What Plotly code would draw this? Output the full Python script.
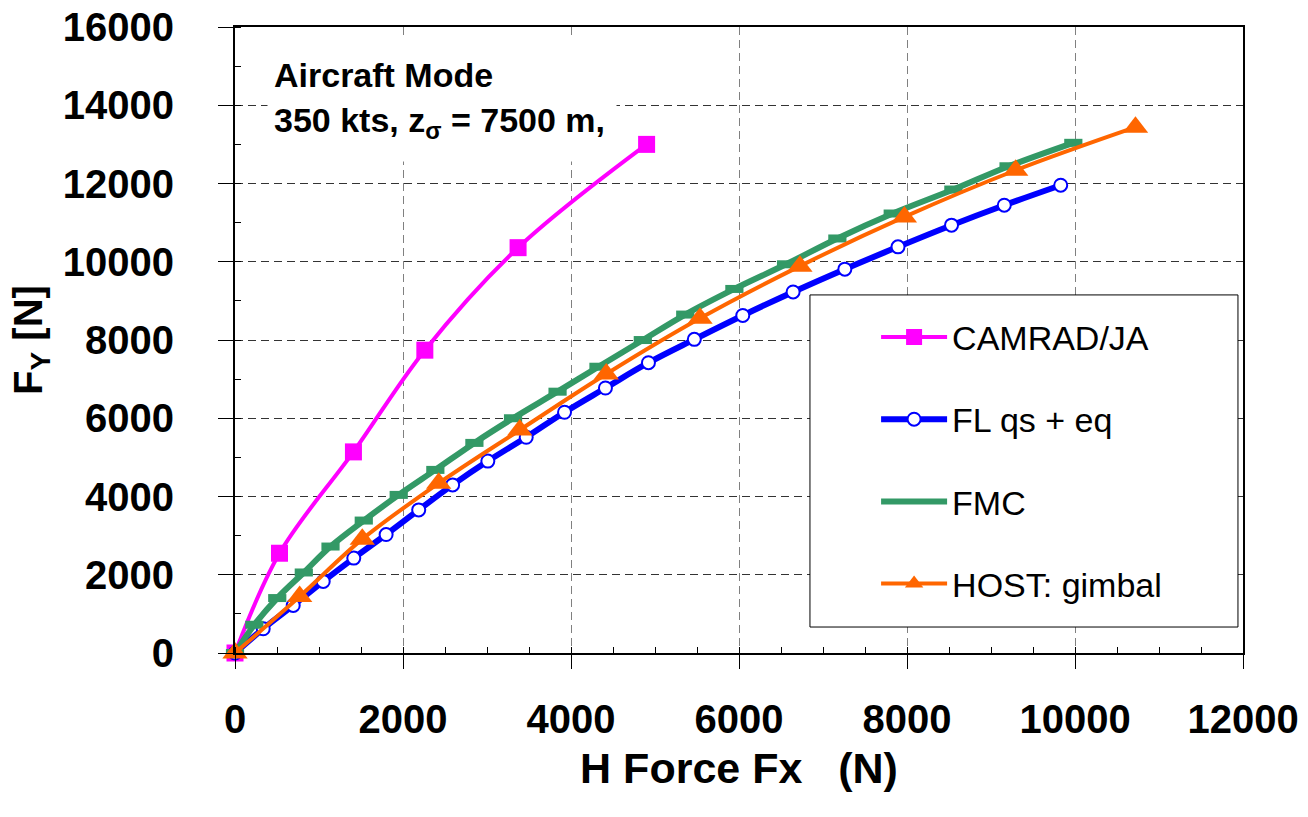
import plotly.graph_objects as go

# ---- data ----
camrad_x = [0, 530, 1410, 2260, 3370, 4900]
camrad_y = [0, 2550, 5140, 7740, 10360, 13000]

fl_x = [0, 336, 693, 1050, 1414, 1799, 2187, 2591, 3010, 3467, 3923, 4410,
        4922, 5468, 6045, 6644, 7260, 7893, 8530, 9158, 9830]
fl_y = [0, 620, 1215, 1828, 2425, 3028, 3658, 4297, 4905, 5514, 6153, 6773,
        7419, 8016, 8628, 9228, 9811, 10381, 10935, 11445, 11956]

fmc_x = [0, 230, 503, 819, 1137, 1533, 1949, 2385, 2850, 3310, 3840, 4327,
         4855, 5360, 5945, 6560, 7171, 7830, 8552, 9209, 9980]
fmc_y = [0, 722, 1404, 2058, 2721, 3385, 4041, 4680, 5370, 6000, 6679, 7317,
         7999, 8650, 9305, 9935, 10595, 11233, 11846, 12441, 13040]

host_x = [0, 770, 1515, 2425, 3390, 4420, 5536, 6725, 7969, 9294, 10720]
host_y = [0, 1445, 2910, 4340, 5700, 7130, 8553, 9888, 11146, 12339, 13440]

x_ticks = [0, 2000, 4000, 6000, 8000, 10000, 12000]
y_ticks = [0, 2000, 4000, 6000, 8000, 10000, 12000, 14000, 16000]

FONT = "Liberation Sans, Arial, sans-serif"

fig = go.Figure()
fig.add_trace(go.Scatter(
    x=camrad_x, y=camrad_y, name="CAMRAD/JA", mode="lines+markers",
    legendgroup="a", cliponaxis=False,
    line=dict(color="#FF00FF", width=4, shape="spline"),
    marker=dict(symbol="square", size=17, color="#FF00FF")))
fig.add_trace(go.Scatter(
    x=fl_x, y=fl_y, name="FL qs + eq", mode="lines+markers",
    legendgroup="b", cliponaxis=False,
    line=dict(color="#0000FF", width=6, shape="spline"),
    marker=dict(symbol="circle", size=13, color="white",
                line=dict(color="#0000FF", width=2))))
fig.add_trace(go.Scatter(
    x=fmc_x, y=fmc_y, name="FMC", mode="lines",
    legendgroup="c", cliponaxis=False,
    line=dict(color="#339966", width=6, shape="spline")))
fig.add_trace(go.Scatter(
    x=fmc_x, y=fmc_y, mode="markers", showlegend=False,
    legendgroup="c", cliponaxis=False,
    marker=dict(symbol="line-ew", size=13,
                line=dict(color="#339966", width=8))))
fig.add_trace(go.Scatter(
    x=host_x, y=host_y, name="HOST: gimbal", mode="lines+markers",
    legendgroup="d", cliponaxis=False,
    line=dict(color="#FF6600", width=4, shape="spline"),
    marker=dict(symbol="triangle-up", size=22, color="#FF6600")))

tickfont = dict(family=FONT, size=40, color="black", weight="bold")

fig.update_xaxes(
    range=[0, 12000], tickvals=x_ticks, ticktext=[str(v) for v in x_ticks],
    automargin=False,
    showgrid=True, gridcolor="#808080", gridwidth=1, griddash="8px,5px",
    zeroline=False, showline=True, linecolor="black", linewidth=2, mirror=True,
    ticks="outside", ticklen=14, tickwidth=1, tickcolor="black",
    minor=dict(dtick=500, tick0=0, ticks="inside", ticklen=6,
               tickcolor="black", tickwidth=1, showgrid=False),
    tickfont=tickfont, ticklabelstandoff=16,
    title=dict(text="<b>H Force Fx\u00a0\u00a0\u00a0(N)</b>",
               font=dict(family=FONT, size=43, color="black"), standoff=13))
fig.update_yaxes(
    range=[0, 16000], tickvals=y_ticks, ticktext=[str(v) for v in y_ticks],
    automargin=False,
    showgrid=True, gridcolor="#333333", gridwidth=1, griddash="8px,5px",
    zeroline=False, showline=True, linecolor="black", linewidth=2, mirror=True,
    ticks="outside", ticklen=15, tickwidth=1, tickcolor="black",
    minor=dict(dtick=1000, tick0=0, ticks="inside", ticklen=6,
               tickcolor="black", tickwidth=1, showgrid=False),
    tickfont=tickfont, ticklabelstandoff=36,
    title=dict(text="<b>F<sub>Y</sub> [N]</b>",
               font=dict(family=FONT, size=40, color="black"), standoff=8))

# legend frame
fig.add_shape(type="rect", xref="paper", yref="paper",
              x0=0.5704, x1=0.995, y0=0.0415, y1=0.572,
              line=dict(color="black", width=1), fillcolor="white", layer="above")

fig.add_annotation(
    xref="paper", yref="paper", x=0.0317, y=0.9824, xanchor="left", yanchor="top",
    text="<b>Aircraft Mode<br>350 kts, z<sub>σ</sub> = 7500 m,</b>",
    showarrow=False, align="left", valign="middle", bgcolor="white",
    width=336, height=110, borderpad=6,
    font=dict(family=FONT, size=34, color="black"))

fig.update_layout(
    width=1308, height=817,
    margin=dict(l=235, r=65, t=27, b=164),
    paper_bgcolor="white", plot_bgcolor="white",
    font=dict(family=FONT, color="black"),
    legend=dict(x=0.636, y=0.5505, xanchor="left", yanchor="top",
                bgcolor="rgba(0,0,0,0)", borderwidth=0,
                font=dict(family=FONT, size=34, color="black"),
                itemwidth=66, tracegroupgap=35, traceorder="grouped"),
)

fig.write_html("out.html", config={"displayModeBar": False},
               post_script="document.body.style.margin='0';")
